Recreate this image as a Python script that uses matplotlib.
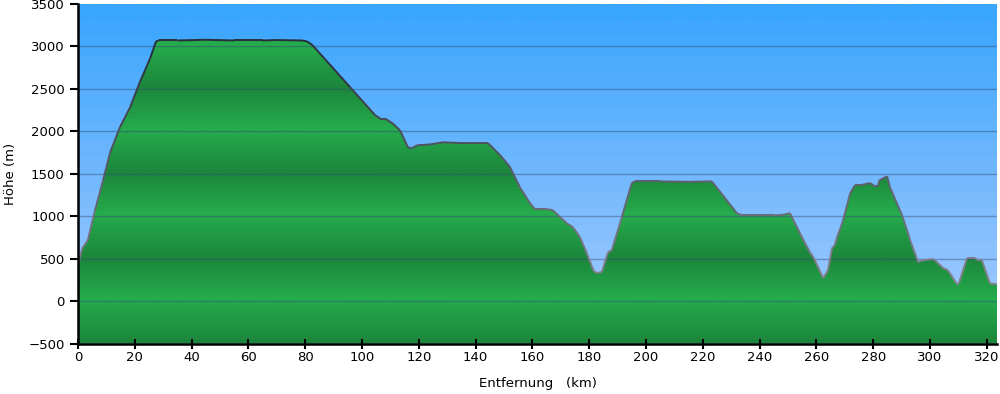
import numpy as np
import matplotlib
matplotlib.use("Agg")
import matplotlib.pyplot as plt
from matplotlib.collections import LineCollection
from matplotlib.patches import Polygon

# Höhenprofil
km = [0, 1.5, 3.5, 6, 8.8, 11.3, 14.8, 18.3, 21.8, 25.4, 27.5, 28.5, 35, 45, 55, 65, 70,
      78.9, 80.5, 82.4, 95.8, 104.6, 106.5, 108.1, 110.9, 113.4, 116.2, 117.6, 119.4,
      123.9, 128.5, 137, 144.4, 148.6, 152.1, 155.6, 159.2, 161, 165, 167, 169.7, 172.2,
      174.3, 176.8, 179.2, 181.5, 182.7, 184.5, 186.6, 188, 191.5, 195, 196.1, 205, 215,
      223.2, 232, 233.8, 240, 245, 248, 250.7, 254.2, 257.7, 258.9, 262.4, 264.1, 265.5,
      266.5, 267.2, 269.4, 271.9, 273.6, 275.4, 278.9, 280.7, 281.7, 282.1, 284.9, 285.9,
      289.4, 290.2, 293, 295.8, 297.5, 301.1, 302.4, 304.6, 306.3, 309.5, 310.2, 313,
      315.8, 316.9, 318.3, 321.1, 323.6]
hoehe = [430, 620, 720, 1070, 1420, 1750, 2050, 2280, 2580, 2860, 3060, 3070, 3070, 3078,
         3070, 3070, 3075, 3070, 3060, 3020, 2520, 2190, 2150, 2150, 2090, 2010, 1810, 1800,
         1835, 1845, 1870, 1860, 1860, 1720, 1580, 1340, 1150, 1080, 1080, 1075, 990, 915,
         870, 750, 560, 360, 330, 345, 575, 600, 990, 1390, 1410, 1410, 1405, 1410, 1035,
         1010, 1010, 1010, 1015, 1035, 800, 575, 520, 270, 365, 620, 660, 740, 950, 1270,
         1365, 1365, 1390, 1350, 1350, 1420, 1470, 1340, 1070, 1010, 720, 460, 480, 495,
         460, 390, 365, 200, 210, 505, 505, 480, 480, 210, 200]

yticks = list(range(-500, 3501, 500))
xticks = list(range(0, 321, 20))

x = np.array(km)
h = np.array(hoehe)
xmax = 323.6
ymin, ymax = -500, 3500

fig = plt.figure(figsize=(10, 3.94), dpi=100)
ax = fig.add_axes([0.078, 0.128, 0.919, 0.862])
ax.set_xlim(0, xmax)
ax.set_ylim(ymin, ymax)

# Himmel: gestufter Verlauf
yy = np.linspace(ymax, ymin, 400)
stufe = np.floor((ymax - yy) / 200) / 20.0
top = np.array([58, 166, 253]) / 255
bot = np.array([175, 205, 255]) / 255
sky = top[None, :] + (bot - top)[None, :] * stufe[:, None]
ax.imshow(sky[:, None, :], extent=[0, xmax, ymin, ymax], aspect="auto", zorder=0)

# Gelände: grünes Band mit Periode 1000 m
yg = np.linspace(ymax, ymin, 800)
phase = np.floor(((yg % 1000) / 1000) * 20) / 20
tri = 1 - np.abs(phase - 0.5) * 2  # 1 bei 500, 0 bei 0/1000
hell = np.array([37, 172, 76]) / 255
dunkel = np.array([28, 134, 60]) / 255
green = hell[None, :] + (dunkel - hell)[None, :] * tri[:, None]
img = ax.imshow(green[:, None, :], extent=[0, xmax, ymin, ymax], aspect="auto", zorder=1)
poly = Polygon(np.column_stack([np.r_[x, xmax, 0], np.r_[h, ymin, ymin]]),
               closed=True, facecolor="none", edgecolor="none")
ax.add_patch(poly)
img.set_clip_path(poly)

# Umrisslinie, nach oben dunkler
pts = np.column_stack([x, h]).reshape(-1, 1, 2)
segs = np.concatenate([pts[:-1], pts[1:]], axis=1)
mid = (h[:-1] + h[1:]) / 2
t = np.clip(mid / 3000, 0, 1)[:, None]
grau = np.array([140, 140, 150]) / 255
dunkelblau = np.array([40, 45, 60]) / 255
cols = grau + (dunkelblau - grau) * t
ax.add_collection(LineCollection(segs, colors=cols, linewidths=1.4, zorder=3))

# Gitterlinien
for yv in yticks[1:-1]:
    ax.axhline(yv, color=(0.2, 0.3, 0.45), alpha=0.45, lw=1, zorder=2)

ax.set_xticks(xticks)
ax.set_yticks(yticks)
ax.tick_params(axis="y", direction="out", length=6, width=1.5, labelsize=9.5, colors="black")
ax.tick_params(axis="x", direction="inout", length=7, width=1.5, labelsize=9.5, pad=2)
for s in ["top", "right"]:
    ax.spines[s].set_visible(False)
for s in ["left", "bottom"]:
    ax.spines[s].set_linewidth(1.8)
    ax.spines[s].set_zorder(4)

ax.set_xlabel("Entfernung   (km)", fontsize=9.5, labelpad=9)
ax.set_ylabel("Höhe (m)", fontsize=9.5, labelpad=8)

fig.savefig("out.png", dpi=100)
